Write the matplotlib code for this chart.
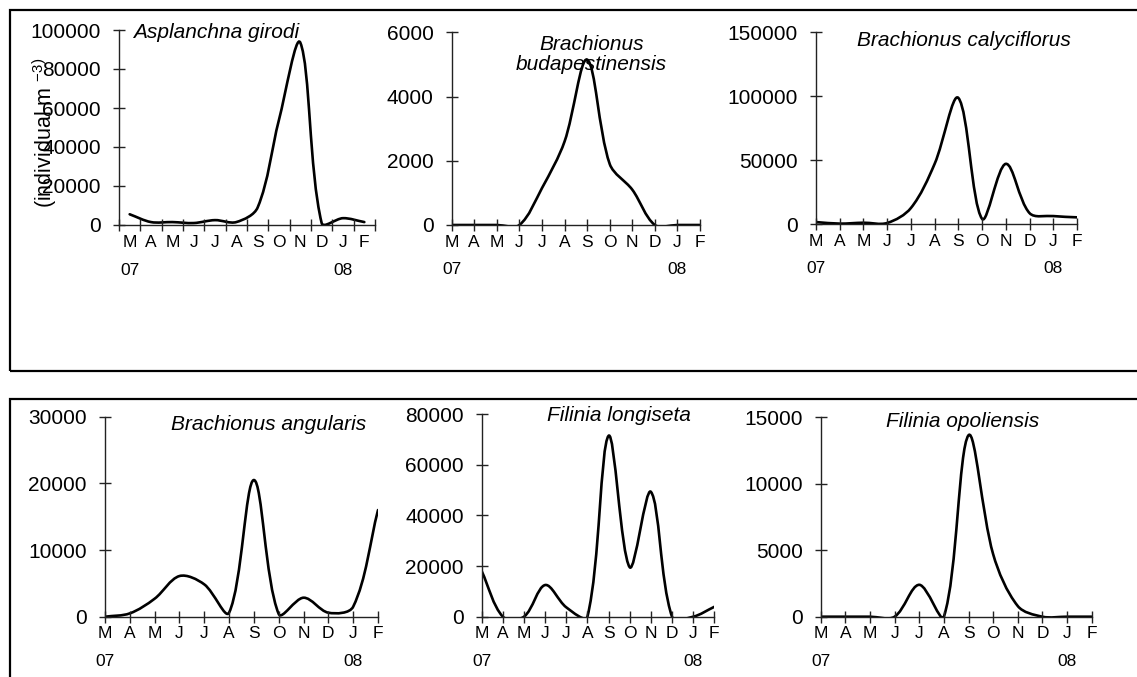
import numpy as np
import matplotlib
matplotlib.use("Agg")
import matplotlib.pyplot as plt
from matplotlib.path import Path
from matplotlib.patches import PathPatch, Rectangle

plt.rcParams['font.family'] = ['Liberation Sans', 'DejaVu Sans']
plt.rcParams['mathtext.default'] = 'regular'

# monthly abundance, March 2007 .. February 2008 (individual m-3)
months = ['M', 'A', 'M', 'J', 'J', 'A', 'S', 'O', 'N', 'D', 'J', 'F']
years = {0: '07', 10: '08'}

asplanchna = [5500, 1500, 1500, 1000, 2500, 1500, 9000, 54000, 93500, 1000, 3500, 1500]
budapestinensis = [0, 0, 0, 0, 1150, 2600, 5150, 1900, 1100, 0, 0, 0]
calyciflorus = [1500, 300, 1000, 800, 12500, 47000, 98500, 4000, 47000, 8500, 6200, 5200]
angularis = [0, 500, 2700, 6100, 4850, 600, 20500, 400, 2850, 600, 1500, 16000]
longiseta = [18000, 0, 0, 12500, 3700, 0, 71400, 19500, 49300, 0, 0, 3900]
opoliensis = [0, 0, 0, 0, 2400, 0, 13650, 4700, 800, 0, 0, 0]

W, H = 1137, 677

def smooth_path(xs, ys, sx, sy):
    # excel-like smoothing: bezier control points weighted by segment length on screen
    pts = np.column_stack([xs, ys]).astype(float)
    ext = np.vstack([pts[0], pts, pts[-1]])
    scale = np.array([sx, sy])

    def dist(a, b):
        return np.hypot(*((b - a) * scale))

    verts = [tuple(pts[0])]
    codes = [Path.MOVETO]
    for i in range(1, len(ext) - 2):
        p0, p1, p2, p3 = ext[i - 1], ext[i], ext[i + 1], ext[i + 2]
        d01, d12, d23 = dist(p0, p1), dist(p1, p2), dist(p2, p3)
        c1 = p1 + (p2 - p0) * d12 / (3.0 * (d01 + d12))
        c2 = p2 - (p3 - p1) * d12 / (3.0 * (d12 + d23))
        verts += [tuple(c1), tuple(c2), tuple(p2)]
        codes += [Path.CURVE4] * 3
    return Path(verts, codes)

def month_labels():
    labs = []
    for i, m in enumerate(months):
        labs.append(m + '\n' + years[i] if i in years else m)
    return labs

def panel(px, title, values, ymax, ystep, tpos, ha='center', between=False):
    x0, x1, yb, yt = px
    ax = fig.add_axes([x0 / W, 1 - yb / H, (x1 - x0) / W, (yb - yt) / H])
    for s in ['top', 'right']:
        ax.spines[s].set_visible(False)
    for s in ['left', 'bottom']:
        ax.spines[s].set_color('#222222')
        ax.spines[s].set_linewidth(1.0)
    n = len(values)
    if between:
        xs = np.arange(n) + 0.5
        xr = n
        ax.set_xlim(0, n)
        ax.set_xticks(np.arange(n + 1))
        ax.set_xticklabels([])
        ax.set_xticks(xs, minor=True)
        ax.set_xticklabels(month_labels(), minor=True)
        ax.tick_params(axis='x', which='minor', length=0, pad=7.5, labelsize=12.5)
        labels = ax.get_xticklabels(minor=True)
    else:
        xs = np.arange(n)
        xr = n - 1
        ax.set_xlim(0, n - 1)
        ax.set_xticks(xs)
        ax.set_xticklabels(month_labels())
        labels = ax.get_xticklabels()
    for t in labels:
        t.set_linespacing(2.05)
    ax.tick_params(axis='x', which='major', direction='inout', length=8, width=1,
                   color='#222222', pad=3, labelsize=12.5)
    ax.set_ylim(0, ymax)
    ax.set_yticks(np.arange(0, ymax + 1, ystep))
    ax.tick_params(axis='y', direction='inout', length=8, width=1, color='#222222',
                   pad=9, labelsize=15)
    sx = (x1 - x0) / xr
    sy = (yb - yt) / ymax
    ax.add_patch(PathPatch(smooth_path(xs, values, sx, sy), facecolor='none',
                           edgecolor='black', lw=1.9, capstyle='round', joinstyle='round'))
    ax.text(tpos[0], tpos[1], title, transform=ax.transAxes, ha=ha, va='center',
            style='italic', fontsize=15, linespacing=1.12)
    return ax

fig = plt.figure(figsize=(W / 100, H / 100), dpi=100)

# frames around the two rows
fig.add_artist(Rectangle((9.5 / W, 1 - 371 / H), 1.2, 361 / H, transform=fig.transFigure,
                         fill=False, lw=1.6, edgecolor='black'))
fig.add_artist(Rectangle((9.5 / W, -0.2), 1.2, 0.2 + 1 - 399 / H, transform=fig.transFigure,
                         fill=False, lw=1.6, edgecolor='black'))

panel((119, 375, 225, 30), 'Asplanchna girodi', asplanchna, 100000, 20000,
      (0.055, 0.985), ha='left', between=True)
panel((451.7, 700, 225, 32.3), 'Brachionus\nbudapestinensis', budapestinensis, 6000, 2000,
      (0.564, 0.885))
panel((816, 1077, 224, 32), 'Brachionus calyciflorus', calyciflorus, 150000, 50000,
      (0.567, 0.958))
panel((105, 378, 616.7, 416.7), 'Brachionus angularis', angularis, 30000, 10000,
      (0.60, 0.963))
panel((481.7, 714.3, 616.7, 414), 'Filinia longiseta', longiseta, 80000, 20000,
      (0.589, 0.995))
panel((820.7, 1091.7, 616.7, 417.3), 'Filinia opoliensis', opoliensis, 15000, 5000,
      (0.524, 0.981))

fig.text(45 / W, 1 - 133 / H, '(individual m $^{-3)}$', rotation=90, ha='center',
         va='center', fontsize=15.5)

fig.savefig('out.png', dpi=100)
